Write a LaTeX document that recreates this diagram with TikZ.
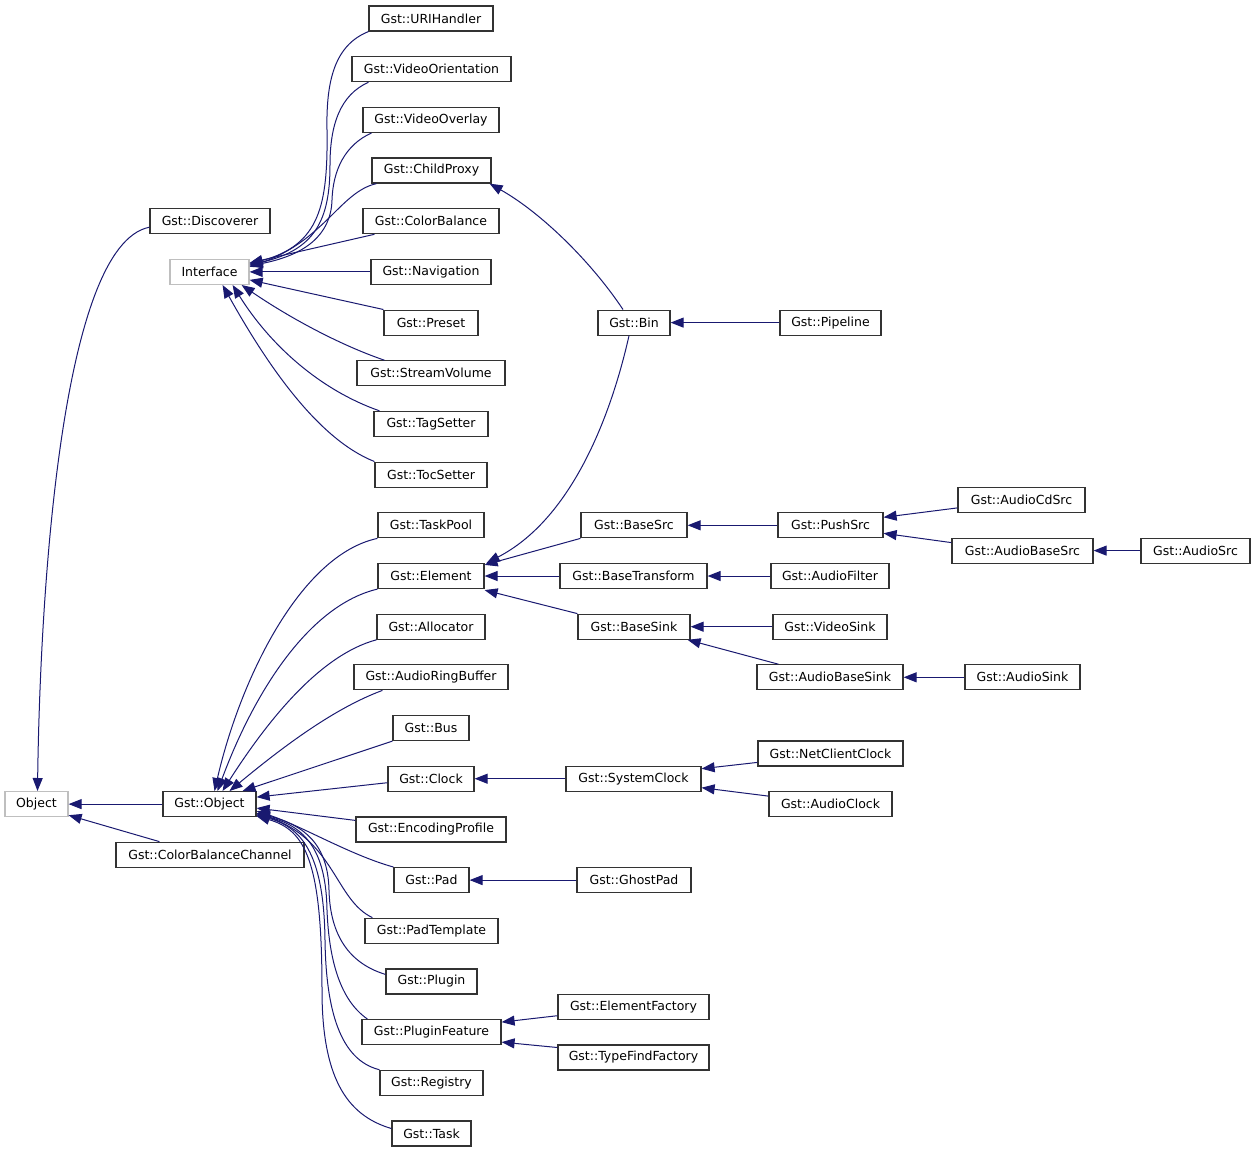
\documentclass[tikz,border=0pt]{standalone}
\usepackage{fontspec}
\setmainfont{DejaVu Sans}
\usetikzlibrary{arrows.meta}
\definecolor{edgeblue}{RGB}{25,25,112}
\definecolor{boxgray}{RGB}{191,191,191}
\tikzset{
  cls/.style={draw=black!80, line width=1.2pt, inner sep=0pt, minimum height=25pt, fill=white, font=\fontsize{12.5}{14}\selectfont},
  ext/.style={cls, draw=boxgray},
  inh/.style={draw=edgeblue, line width=1pt, -{Triangle[length=13pt,width=10pt]}},
}
\begin{document}
\begin{tikzpicture}[x=1pt,y=-1pt]
\useasboundingbox (0,0) rectangle (1256,1152);
% ---- nodes (column around x=431)
\node[cls, minimum width=124pt] (urih) at (431,18.5) {Gst::URIHandler};
\node[cls, minimum width=159pt] (vori) at (431.5,69.2) {Gst::VideoOrientation};
\node[cls, minimum width=136pt] (vover) at (431,119.9) {Gst::VideoOverlay};
\node[cls, minimum width=119pt] (childp) at (431.5,170.5) {Gst::ChildProxy};
\node[cls, minimum width=136pt] (colorb) at (431,221.2) {Gst::ColorBalance};
\node[cls, minimum width=120pt] (nav) at (431,271.9) {Gst::Navigation};
\node[cls, minimum width=94pt] (preset) at (431,322.6) {Gst::Preset};
\node[cls, minimum width=148pt] (svol) at (431,373.3) {Gst::StreamVolume};
\node[cls, minimum width=114pt] (tagset) at (431,423.9) {Gst::TagSetter};
\node[cls, minimum width=112pt] (tocset) at (431,474.6) {Gst::TocSetter};
\node[cls, minimum width=106pt] (taskpool) at (431,525.3) {Gst::TaskPool};
\node[cls, minimum width=106pt] (element) at (431,576.0) {Gst::Element};
\node[cls, minimum width=108pt] (alloc) at (431,626.7) {Gst::Allocator};
\node[cls, minimum width=154pt] (arb) at (431,677.3) {Gst::AudioRingBuffer};
\node[cls, minimum width=76pt] (bus) at (431,728.0) {Gst::Bus};
\node[cls, minimum width=86pt] (clock) at (431,778.7) {Gst::Clock};
\node[cls, minimum width=150pt] (encprof) at (431,829.4) {Gst::EncodingProfile};
\node[cls, minimum width=75pt] (pad) at (431.5,880.1) {Gst::Pad};
\node[cls, minimum width=133pt] (padtmpl) at (431.5,930.7) {Gst::PadTemplate};
\node[cls, minimum width=91pt] (plugin) at (431.5,981.4) {Gst::Plugin};
\node[cls, minimum width=139pt] (pfeat) at (431.5,1032.1) {Gst::PluginFeature};
\node[cls, minimum width=103pt] (registry) at (431.5,1082.8) {Gst::Registry};
\node[cls, minimum width=79pt] (task) at (431.5,1133.5) {Gst::Task};
% ---- left
\node[cls, minimum width=120pt] (discoverer) at (210,221.2) {Gst::Discoverer};
\node[ext, minimum width=79pt] (interface) at (209.5,271.9) {Interface};
\node[ext, minimum width=63pt] (object) at (36.5,804.1) {Object};
\node[cls, minimum width=93pt] (gobject) at (209.5,804.1) {Gst::Object};
\node[cls, minimum width=188pt] (cbc) at (210,854.7) {Gst::ColorBalanceChannel};
% ---- right
\node[cls, minimum width=72pt] (bin) at (634,322.6) {Gst::Bin};
\node[cls, minimum width=101pt] (pipeline) at (830.5,322.6) {Gst::Pipeline};
\node[cls, minimum width=106pt] (basesrc) at (634,525.3) {Gst::BaseSrc};
\node[cls, minimum width=105pt] (pushsrc) at (830.5,525.3) {Gst::PushSrc};
\node[cls, minimum width=127pt] (audiocdsrc) at (1021.5,499.9) {Gst::AudioCdSrc};
\node[cls, minimum width=141pt] (audiobasesrc) at (1022.5,550.6) {Gst::AudioBaseSrc};
\node[cls, minimum width=109pt] (audiosrc) at (1195.5,550.6) {Gst::AudioSrc};
\node[cls, minimum width=147pt] (basetrans) at (633.5,576.0) {Gst::BaseTransform};
\node[cls, minimum width=118pt] (audiofilter) at (830,576.0) {Gst::AudioFilter};
\node[cls, minimum width=112pt] (basesink) at (634,626.7) {Gst::BaseSink};
\node[cls, minimum width=114pt] (videosink) at (830,626.7) {Gst::VideoSink};
\node[cls, minimum width=146pt] (audiobasesink) at (830,677.3) {Gst::AudioBaseSink};
\node[cls, minimum width=115pt] (audiosink) at (1022.5,677.3) {Gst::AudioSink};
\node[cls, minimum width=135pt] (sysclock) at (633.5,778.7) {Gst::SystemClock};
\node[cls, minimum width=145pt] (netclock) at (830.5,753.4) {Gst::NetClientClock};
\node[cls, minimum width=123pt] (audioclock) at (830.5,804.1) {Gst::AudioClock};
\node[cls, minimum width=114pt] (ghostpad) at (634,880.1) {Gst::GhostPad};
\node[cls, minimum width=151pt] (elemfact) at (633.5,1006.7) {Gst::ElementFactory};
\node[cls, minimum width=151pt] (tffact) at (633.5,1057.5) {Gst::TypeFindFactory};
% ---- edges to Interface
\draw[inh] (urih.south west) .. controls (335,45) and (326,80) .. (327,130) .. controls (328,205) and (320,245) .. ([yshift=8pt]interface.east);
\draw[inh] ([xshift=17pt]vori.south west) .. controls (340,95) and (330,125) .. (330,165) .. controls (330,220) and (315,250) .. ([yshift=7pt]interface.east);
\draw[inh] ([xshift=9pt]vover.south west) .. controls (345,145) and (333,170) .. (332,200) .. controls (331,235) and (305,255) .. ([yshift=6pt]interface.east);
\draw[inh] ([xshift=5pt]childp.south west) .. controls (340,192) and (325,240) .. ([yshift=5pt]interface.east);
\draw[inh] ([xshift=12pt]colorb.south west) -- ([yshift=9pt]interface.east);
\draw[inh] (nav.west) -- (interface.east);
\draw[inh] (preset.north west) -- ([yshift=-8pt]interface.east);
\draw[inh] ([xshift=28pt]svol.north west) .. controls (340,345) and (290,318) .. ([xshift=-8pt]interface.south east);
\draw[inh] ([xshift=6pt]tagset.north west) .. controls (320,390) and (270,345) .. ([xshift=-17pt]interface.south east);
\draw[inh] (tocset.north west) .. controls (320,440) and (270,370) .. ([xshift=-27pt]interface.south east);
% ---- edges to Gst::Object
\draw[inh] (taskpool.south west) .. controls (300,555) and (240,680) .. ([xshift=5pt]gobject.north);
\draw[inh] (element.south west) .. controls (310,605) and (255,690) .. ([xshift=8pt]gobject.north);
\draw[inh] (alloc.south west) .. controls (320,655) and (268,720) .. ([xshift=13pt]gobject.north);
\draw[inh] ([xshift=29pt]arb.south west) .. controls (335,708) and (285,745) .. ([xshift=20pt]gobject.north);
\draw[inh] (bus.south west) -- ([xshift=33pt]gobject.north);
\draw[inh] ([yshift=-4pt]clock.west) -- ([yshift=7pt]gobject.east);
\draw[inh] ([yshift=9pt]encprof.west) -- ([yshift=-4pt]gobject.east);
\draw[inh] (pad.north west) .. controls (350,855) and (300,825) .. ([yshift=-7pt]gobject.east);
\draw[inh] ([xshift=8pt]padtmpl.north west) .. controls (335,900) and (335,840) .. ([yshift=-9pt]gobject.east);
\draw[inh] ([yshift=7pt]plugin.west) .. controls (345,962) and (330,930) .. (329,890) .. controls (328,845) and (305,825) .. ([yshift=-9pt]gobject.east);
\draw[inh] ([xshift=6pt]pfeat.north west) .. controls (340,1000) and (329,960) .. (327,910) .. controls (326,850) and (305,826) .. ([yshift=-10pt]gobject.east);
\draw[inh] (registry.north west) .. controls (340,1060) and (326,1010) .. (325,940) .. controls (324,860) and (305,828) .. ([yshift=-11pt]gobject.east);
\draw[inh] ([yshift=5pt]task.west) .. controls (345,1115) and (322,1075) .. (322,990) .. controls (322,860) and (305,830) .. ([yshift=-12pt]gobject.east);
% ---- edges to Object
\draw[inh] ([yshift=-6pt]discoverer.west) .. controls (60,245) and (40,600) .. ([xshift=1pt]object.north);
\draw[inh] (gobject.west) -- (object.east);
\draw[inh] ([xshift=44pt]cbc.north west) -- ([yshift=2pt]object.south east);
% ---- right part
\draw[inh] ([xshift=-11pt]bin.north) .. controls (590,260) and (540,212) .. ([xshift=-2pt]childp.south east);
\draw[inh] ([xshift=-5pt]bin.south) .. controls (610,420) and (570,520) .. ([xshift=2pt]element.north east);
\draw[inh] (pipeline.west) -- (bin.east);
\draw[inh] (basesrc.south west) -- ([yshift=-2pt]element.north east);
\draw[inh] (pushsrc.west) -- (basesrc.east);
\draw[inh] ([yshift=-8pt]audiocdsrc.west) -- ([yshift=8pt]pushsrc.east);
\draw[inh] ([yshift=8pt]audiobasesrc.west) -- ([yshift=-8pt]pushsrc.east);
\draw[inh] (audiosrc.west) -- (audiobasesrc.east);
\draw[inh] (basetrans.west) -- (element.east);
\draw[inh] (audiofilter.west) -- (basetrans.east);
\draw[inh] (basesink.north west) -- ([yshift=-1pt]element.south east);
\draw[inh] (videosink.west) -- (basesink.east);
\draw[inh] ([xshift=22pt]audiobasesink.north west) -- ([xshift=-3pt]basesink.south east);
\draw[inh] (audiosink.west) -- (audiobasesink.east);
\draw[inh] (sysclock.west) -- (clock.east);
\draw[inh] ([yshift=-9pt]netclock.west) -- ([yshift=10pt]sysclock.east);
\draw[inh] ([yshift=8pt]audioclock.west) -- ([yshift=-9pt]sysclock.east);
\draw[inh] (ghostpad.west) -- (pad.east);
\draw[inh] ([yshift=-9pt]elemfact.west) -- ([yshift=10pt]pfeat.east);
\draw[inh] ([yshift=10pt]tffact.west) -- ([yshift=-10pt]pfeat.east);
\end{tikzpicture}
\end{document}
